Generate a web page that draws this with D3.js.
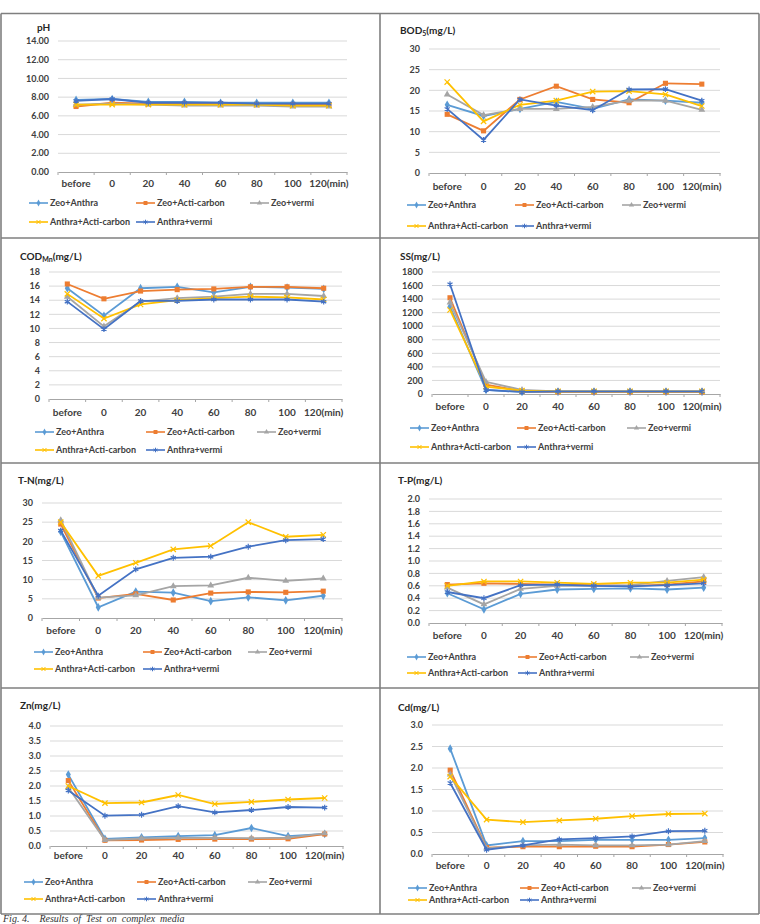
<!DOCTYPE html>
<html>
<head>
<meta charset="utf-8">
<script src="https://cdn.jsdelivr.net/npm/d3@7"></script>
<style>
  body { margin: 0; background: #fff; }
  text { font-family: Lato, "Open Sans", sans-serif; font-weight: bold; fill: #404040; }
  text.caption { font-family: "Liberation Serif", serif; font-style: italic; font-weight: normal; fill: #333; }
</style>
</head>
<body>
<div id="chart"></div>
<script>
// categories and series
const categories = ["before", "0", "20", "40", "60", "80", "100", "120(min)"];
const seriesNames = ["Zeo+Anthra", "Zeo+Acti-carbon", "Zeo+vermi", "Anthra+Acti-carbon", "Anthra+vermi"];

// values, one array per series (same order as seriesNames)
const pH = [
  [7.7, 7.8, 7.5, 7.5, 7.4, 7.4, 7.4, 7.4],
  [7.0, 7.4, 7.3, 7.3, 7.3, 7.2, 7.2, 7.2],
  [7.2, 7.3, 7.2, 7.1, 7.1, 7.1, 7.0, 7.0],
  [7.2, 7.2, 7.2, 7.2, 7.2, 7.2, 7.1, 7.1],
  [7.6, 7.8, 7.4, 7.4, 7.4, 7.3, 7.3, 7.3]
];
const bod = [
  [16.5, 13.8, 15.5, 17.2, 15.5, 17.8, 17.5, 17.0],
  [14.2, 10.2, 17.8, 21.0, 17.8, 17.0, 21.7, 21.5],
  [19.0, 14.0, 15.5, 15.5, 16.0, 17.5, 17.5, 15.3],
  [22.0, 12.5, 16.5, 17.5, 19.7, 19.8, 19.0, 16.2],
  [15.5, 8.0, 17.8, 16.3, 15.2, 20.2, 20.3, 17.5]
];
const cod = [
  [15.7, 11.8, 15.7, 15.9, 15.1, 15.9, 15.8, 15.6],
  [16.3, 14.2, 15.3, 15.5, 15.6, 15.9, 15.9, 15.7],
  [14.5, 10.3, 13.8, 14.3, 14.5, 14.9, 14.9, 14.6],
  [14.9, 11.4, 13.4, 14.0, 14.3, 14.5, 14.4, 14.1],
  [13.8, 9.9, 13.9, 13.9, 14.1, 14.1, 14.1, 13.8]
];
const ss = [
  [1290, 60, 30, 30, 30, 30, 30, 30],
  [1420, 140, 40, 30, 30, 30, 30, 30],
  [1350, 180, 60, 40, 40, 40, 40, 40],
  [1240, 110, 50, 40, 40, 40, 40, 40],
  [1620, 60, 30, 40, 40, 40, 40, 40]
];
const tn = [
  [22.5, 2.8, 6.9, 6.6, 4.4, 5.4, 4.6, 5.8],
  [24.5, 5.2, 6.3, 4.7, 6.5, 6.8, 6.7, 7.0],
  [25.5, 5.3, 5.9, 8.3, 8.5, 10.5, 9.7, 10.3],
  [25.0, 11.0, 14.4, 17.9, 18.8, 25.0, 21.2, 21.7],
  [22.8, 5.8, 12.7, 15.7, 16.0, 18.6, 20.3, 20.6]
];
const tp = [
  [0.48, 0.22, 0.47, 0.54, 0.55, 0.56, 0.54, 0.57],
  [0.62, 0.64, 0.63, 0.62, 0.61, 0.60, 0.62, 0.67],
  [0.57, 0.30, 0.55, 0.60, 0.60, 0.61, 0.68, 0.74],
  [0.60, 0.67, 0.67, 0.65, 0.63, 0.65, 0.65, 0.70],
  [0.50, 0.40, 0.61, 0.62, 0.60, 0.59, 0.61, 0.64]
];
const zn = [
  [2.38, 0.24, 0.29, 0.33, 0.36, 0.60, 0.33, 0.40],
  [2.18, 0.19, 0.20, 0.22, 0.23, 0.23, 0.24, 0.40],
  [1.95, 0.20, 0.25, 0.27, 0.27, 0.26, 0.28, 0.42],
  [2.00, 1.43, 1.45, 1.70, 1.40, 1.47, 1.55, 1.60],
  [1.85, 1.01, 1.04, 1.33, 1.12, 1.20, 1.30, 1.28]
];
const cd = [
  [2.45, 0.20, 0.30, 0.30, 0.33, 0.33, 0.33, 0.37],
  [1.95, 0.15, 0.17, 0.17, 0.18, 0.17, 0.22, 0.28],
  [1.85, 0.13, 0.20, 0.22, 0.20, 0.20, 0.22, 0.30],
  [1.80, 0.80, 0.74, 0.78, 0.82, 0.88, 0.93, 0.94],
  [1.65, 0.10, 0.20, 0.34, 0.37, 0.41, 0.53, 0.54]
];

const colors = ["#5b9bd5", "#ed7d31", "#a5a5a5", "#ffc000", "#4472c4"];
const symbols = [d3.symbolDiamond, d3.symbolSquare, d3.symbolTriangle, d3.symbolTimes, d3.symbolAsterisk];
const strokeSym = [false, false, false, true, true];
const symSize = [22, 26, 20, 20, 24];

// panel layout (pixels)
const panels = [
  {title: "pH", values: pH, max: 14, step: 2, fmt: ".2f", tx: 37, ty: 31,
   left: 58, right: 347, top: 41, bottom: 172, xl: 187, leg: [203, 222], lx: [29, 136, 250]},
  {title: "BOD", sub: "5", after: "(mg/L)", values: bod, max: 30, step: 5, fmt: "d", tx: 400, ty: 34,
   left: 429, right: 720, top: 49, bottom: 173, xl: 190, leg: [205, 226], lx: [407, 515, 622]},
  {title: "COD", sub: "Mn", after: "(mg/L)", values: cod, max: 18, step: 2, fmt: "d", tx: 20, ty: 260,
   left: 49, right: 342, top: 272, bottom: 399, xl: 416, leg: [432, 450], lx: [35, 146, 257]},
  {title: "SS(mg/L)", values: ss, max: 1800, step: 200, fmt: "d", tx: 400, ty: 260,
   left: 432, right: 720, top: 272, bottom: 394, xl: 410, leg: [428, 447], lx: [410, 517, 627]},
  {title: "T-N(mg/L)", values: tn, max: 30, step: 5, fmt: "d", tx: 18, ty: 484,
   left: 42, right: 342, top: 503, bottom: 618, xl: 634, leg: [652, 669], lx: [34, 143, 248]},
  {title: "T-P(mg/L)", values: tp, max: 2, step: 0.2, fmt: ".1f", tx: 398, ty: 484,
   left: 429, right: 722, top: 499, bottom: 623, xl: 639, leg: [657, 673], lx: [407, 518, 630]},
  {title: "Zn(mg/L)", values: zn, max: 4, step: 0.5, fmt: ".1f", tx: 20, ty: 709,
   left: 50, right: 343, top: 726, bottom: 846, xl: 859, leg: [882, 899], lx: [24, 137, 248]},
  {title: "Cd(mg/L)", values: cd, max: 3, step: 0.5, fmt: ".1f", tx: 398, ty: 711,
   left: 432, right: 723, top: 725, bottom: 854, xl: 869, leg: [888, 900], lx: [408, 520, 632]}
];

const svg = d3.select("#chart").append("svg")
    .attr("width", 760)
    .attr("height", 924);

// outer frame and cell dividers
const frame = svg.append("g").attr("stroke", "#7f7f7f").attr("stroke-width", 1.6).attr("fill", "none");
[1, 380, 759].forEach(x => frame.append("line").attr("x1", x).attr("x2", x).attr("y1", 13.5).attr("y2", 914));
[13.5, 238, 463, 688, 914].forEach(y => frame.append("line").attr("x1", 1).attr("x2", 759).attr("y1", y).attr("y2", y));

function drawPanel(p) {
  const g = svg.append("g");
  const x = d3.scaleBand().domain(categories).range([p.left, p.right]);
  const y = d3.scaleLinear().domain([0, p.max]).range([p.bottom, p.top]);
  const ticks = d3.range(0, p.max + p.step / 2, p.step);

  // gridlines
  g.append("g").selectAll("line").data(ticks.slice(1)).join("line")
      .attr("x1", p.left).attr("x2", p.right)
      .attr("y1", d => y(d)).attr("y2", d => y(d))
      .attr("stroke", "#d9d9d9").attr("stroke-width", 1);

  // y labels
  g.append("g").selectAll("text").data(ticks).join("text")
      .attr("x", p.left - 9).attr("y", d => y(d) + 3.2)
      .attr("text-anchor", "end").attr("font-size", 9)
      .text(d => d3.format(p.fmt)(d));

  // x axis
  const xa = g.append("g").attr("transform", `translate(0,${p.bottom})`)
      .call(d3.axisBottom(x).tickSize(0).tickFormat(""));
  xa.select(".domain").attr("stroke", "#a6a6a6");
  const edges = categories.map(c => x(c)).concat([p.right]);
  g.append("g").selectAll("line").data(edges).join("line")
      .attr("x1", d => d).attr("x2", d => d)
      .attr("y1", p.bottom).attr("y2", p.bottom + 3)
      .attr("stroke", "#a6a6a6");
  g.append("g").selectAll("text").data(categories).join("text")
      .attr("x", d => x(d) + x.bandwidth() / 2).attr("y", p.xl)
      .attr("text-anchor", "middle").attr("font-size", 10)
      .text(d => d);

  // title
  const t = g.append("text").attr("x", p.tx).attr("y", p.ty).attr("font-size", 10).style("fill", "#262626");
  t.append("tspan").text(p.title);
  if (p.sub) {
    t.append("tspan").attr("font-size", 7).attr("dy", 2).text(p.sub);
    t.append("tspan").attr("dy", -2).text(p.after);
  }

  // series
  const line = d3.line().x((d, i) => x(categories[i]) + x.bandwidth() / 2).y(d => y(d));
  p.values.forEach((vals, si) => {
    const s = g.append("g");
    s.append("path").datum(vals)
        .attr("d", line).attr("fill", "none")
        .attr("stroke", colors[si]).attr("stroke-width", 1.8);
    s.selectAll("path.m").data(vals).join("path")
        .attr("class", "m")
        .attr("transform", (d, i) => `translate(${x(categories[i]) + x.bandwidth() / 2},${y(d)})`)
        .attr("d", d3.symbol(symbols[si], symSize[si]))
        .attr("fill", strokeSym[si] ? "none" : colors[si])
        .attr("stroke", strokeSym[si] ? colors[si] : "none")
        .attr("stroke-width", 1.2);
  });

  // legend
  seriesNames.forEach((name, si) => {
    const row = si < 3 ? 0 : 1;
    const col = si < 3 ? si : si - 3;
    const lx = p.lx[col], ly = p.leg[row];
    const lg = g.append("g");
    lg.append("line").attr("x1", lx).attr("x2", lx + 19).attr("y1", ly).attr("y2", ly)
        .attr("stroke", colors[si]).attr("stroke-width", 1.6);
    lg.append("path").attr("transform", `translate(${lx + 9.5},${ly})`)
        .attr("d", d3.symbol(symbols[si], symSize[si] * 0.6))
        .attr("fill", strokeSym[si] ? "none" : colors[si])
        .attr("stroke", strokeSym[si] ? colors[si] : "none")
        .attr("stroke-width", 1);
    lg.append("text").attr("x", lx + 21).attr("y", ly + 3.2).attr("font-size", 9).text(name);
  });
}

panels.forEach(drawPanel);

// caption below the frame
svg.append("text").attr("class", "caption").attr("x", 3).attr("y", 921.5)
    .attr("font-size", 10)
    .attr("xml:space", "preserve")
    .text("Fig. 4.    Results  of  Test  on  complex  media");
</script>
</body>
</html>
